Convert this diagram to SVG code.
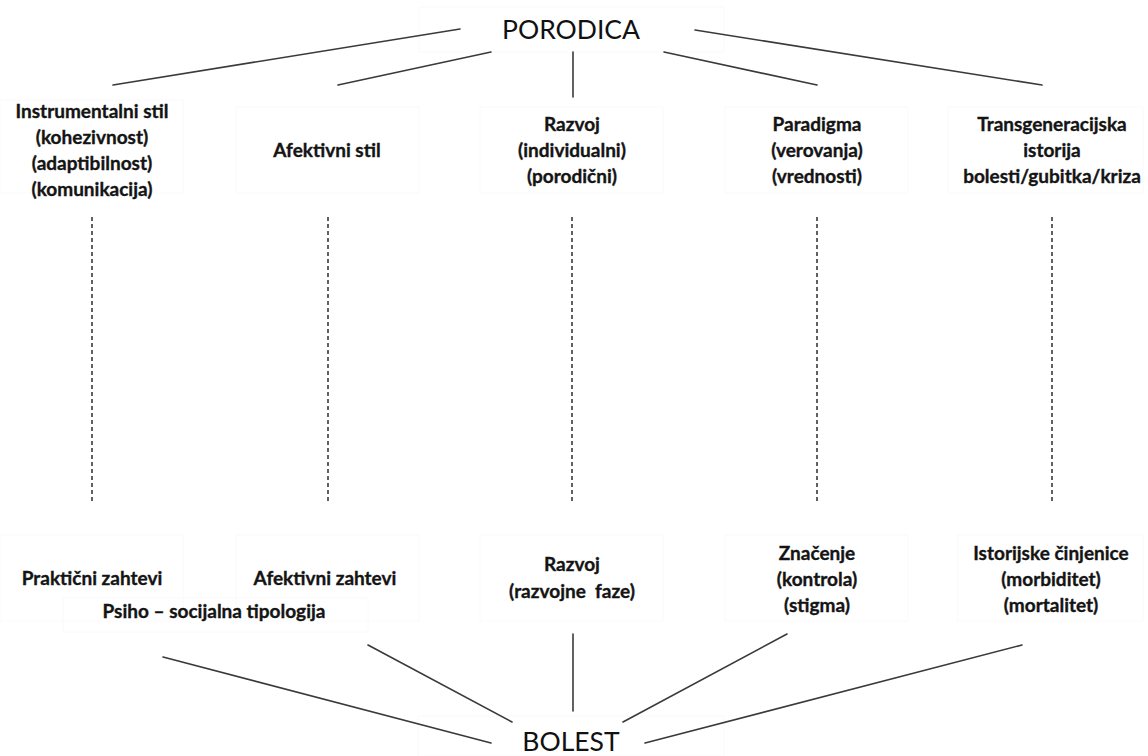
<svg xmlns="http://www.w3.org/2000/svg" width="1148" height="756" viewBox="0 0 1148 756">
  <style>
    .bg { fill: #ffffff; }
    .frame { fill: none; stroke: #fafafa; stroke-width: 1; }
    .title { font-family: Lato, "Liberation Sans", sans-serif; font-size: 26.5px; fill: #111111; text-anchor: middle; }
    .lbl { font-family: Lato, "Liberation Sans", sans-serif; font-size: 19px; font-weight: bold; fill: #141414; stroke: #141414; stroke-width: 0.35; text-anchor: middle; }
    .link { stroke: #3a3a3a; stroke-width: 1.6; fill: none; stroke-linecap: round; }
    .dash { stroke: #3a3a3a; stroke-width: 1.6; fill: none; stroke-dasharray: 4 3; }
  </style>
  <rect class="bg" x="0" y="0" width="1148" height="756"/>

  <!-- top: family -->
  <g id="porodica">
    <rect class="frame" x="419" y="7" width="305" height="45"/>
    <text class="title" x="571" y="39">PORODICA</text>
  </g>

  <!-- family dimensions -->
  <g id="instrumentalni-stil">
    <rect class="frame" x="0" y="100" width="183" height="93"/>
    <text class="lbl" x="92" y="118">Instrumentalni stil</text>
    <text class="lbl" x="92" y="144">(kohezivnost)</text>
    <text class="lbl" x="92" y="170">(adaptibilnost)</text>
    <text class="lbl" x="92" y="196">(komunikacija)</text>
  </g>
  <g id="afektivni-stil">
    <rect class="frame" x="236" y="107" width="183" height="86"/>
    <text class="lbl" x="327" y="157">Afektivni stil</text>
  </g>
  <g id="razvoj-porodice">
    <rect class="frame" x="480" y="107" width="183" height="86"/>
    <text class="lbl" x="572" y="131">Razvoj</text>
    <text class="lbl" x="572" y="157">(individualni)</text>
    <text class="lbl" x="572" y="183">(porodični)</text>
  </g>
  <g id="paradigma">
    <rect class="frame" x="725" y="107" width="183" height="86"/>
    <text class="lbl" x="817" y="131">Paradigma</text>
    <text class="lbl" x="817" y="157">(verovanja)</text>
    <text class="lbl" x="817" y="183">(vrednosti)</text>
  </g>
  <g id="transgeneracijska-istorija">
    <rect class="frame" x="948" y="107" width="195" height="86"/>
    <text class="lbl" x="1052" y="131">Transgeneracijska</text>
    <text class="lbl" x="1052" y="157">istorija</text>
    <text class="lbl" x="1052" y="183">bolesti/gubitka/kriza</text>
  </g>

  <!-- illness dimensions -->
  <g id="prakticni-zahtevi">
    <rect class="frame" x="0" y="535" width="183" height="86"/>
    <text class="lbl" x="92" y="585">Praktični zahtevi</text>
  </g>
  <g id="afektivni-zahtevi">
    <rect class="frame" x="236" y="535" width="183" height="86"/>
    <text class="lbl" x="325" y="585">Afektivni zahtevi</text>
  </g>
  <g id="psihosocijalna-tipologija">
    <rect class="frame" x="63" y="598" width="305" height="34"/>
    <text class="lbl" x="214" y="618">Psiho – socijalna tipologija</text>
  </g>
  <g id="razvoj-bolesti">
    <rect class="frame" x="480" y="535" width="183" height="86"/>
    <text class="lbl" x="572" y="571">Razvoj</text>
    <text class="lbl" x="572" y="598" xml:space="preserve">(razvojne  faze)</text>
  </g>
  <g id="znacenje">
    <rect class="frame" x="725" y="535" width="183" height="86"/>
    <text class="lbl" x="817" y="560">Značenje</text>
    <text class="lbl" x="817" y="586">(kontrola)</text>
    <text class="lbl" x="817" y="612">(stigma)</text>
  </g>
  <g id="istorijske-cinjenice">
    <rect class="frame" x="958" y="535" width="185" height="86"/>
    <text class="lbl" x="1051" y="560">Istorijske činjenice</text>
    <text class="lbl" x="1051" y="586">(morbiditet)</text>
    <text class="lbl" x="1051" y="612">(mortalitet)</text>
  </g>

  <!-- bottom: illness -->
  <g id="bolest">
    <rect class="frame" x="418" y="716" width="306" height="40"/>
    <text class="title" x="571" y="751">BOLEST</text>
  </g>

  <!-- connectors -->
  <g id="connectors">
    <line class="link" x1="460" y1="29" x2="113" y2="85"/>
    <line class="link" x1="491" y1="52" x2="338" y2="85"/>
    <line class="link" x1="573" y1="52" x2="573" y2="97"/>
    <line class="link" x1="664" y1="52" x2="817" y2="85"/>
    <line class="link" x1="695" y1="30" x2="1042" y2="85"/>

    <line class="dash" x1="92" y1="217" x2="92" y2="502"/>
    <line class="dash" x1="328" y1="217" x2="328" y2="502"/>
    <line class="dash" x1="572" y1="217" x2="572" y2="502"/>
    <line class="dash" x1="817" y1="217" x2="817" y2="502"/>
    <line class="dash" x1="1052" y1="217" x2="1052" y2="502"/>

    <line class="link" x1="163" y1="657" x2="491" y2="743"/>
    <line class="link" x1="368" y1="645" x2="512" y2="722"/>
    <line class="link" x1="573" y1="634" x2="573" y2="711"/>
    <line class="link" x1="787" y1="634" x2="623" y2="722"/>
    <line class="link" x1="1022" y1="645" x2="645" y2="743"/>
  </g>
</svg>
